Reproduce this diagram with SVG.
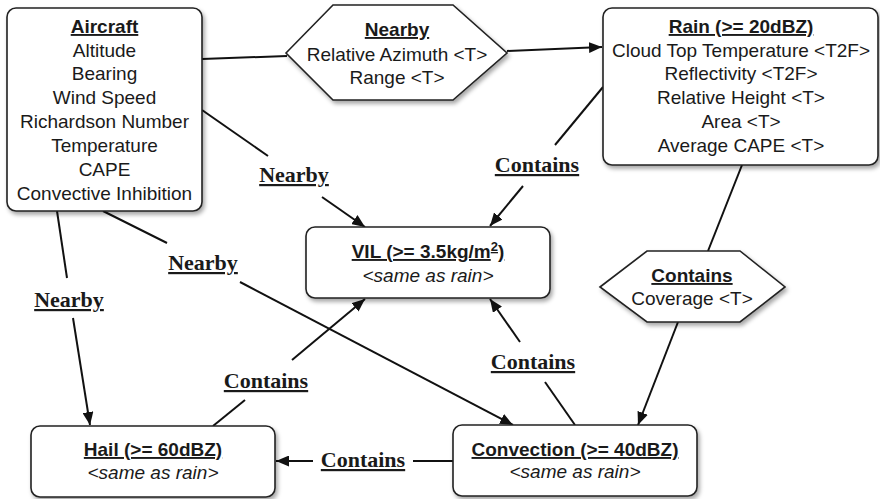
<svg xmlns="http://www.w3.org/2000/svg" width="880" height="499" viewBox="0 0 880 499">
<defs>
<marker id="arr" markerUnits="userSpaceOnUse" markerWidth="13" markerHeight="11" refX="13" refY="5.5" orient="auto">
<path d="M0,0 L13,5.5 L0,11 z" fill="#111"/>
</marker>
<filter id="sh" x="-10%" y="-10%" width="125%" height="130%">
<feDropShadow dx="2" dy="3" stdDeviation="2.2" flood-color="#000" flood-opacity="0.35"/>
</filter>
<style>
.box{fill:#fff;stroke:#222;stroke-width:1.6;filter:url(#sh)}
.t{font-family:"Liberation Sans",Arial,sans-serif;font-size:19px;fill:#1a1a1a;text-anchor:middle}
.h{font-weight:bold;text-decoration:underline}
.i{font-style:italic}
.c{stroke:#111;stroke-width:2;fill:none}
.a{marker-end:url(#arr)}
.l{font-family:"Liberation Serif","Times New Roman",serif;font-size:22px;font-weight:bold;fill:#1a1a1a;text-decoration:underline;text-anchor:middle}
</style>
</defs>
<rect width="880" height="499" fill="#fff"/>

<g id="connectors">
<line class="c" x1="202" y1="59" x2="287" y2="56"/>
<line class="c a" x1="507" y1="51" x2="602" y2="47"/>
<line class="c" x1="202" y1="110" x2="268" y2="156"/>
<line class="c a" x1="322" y1="197" x2="365" y2="227"/>
<line class="c" x1="603" y1="87" x2="555" y2="145"/>
<line class="c a" x1="523" y1="186" x2="490" y2="226"/>
<line class="c" x1="57" y1="211" x2="67" y2="278"/>
<line class="c a" x1="73" y1="318" x2="90" y2="425"/>
<line class="c" x1="103" y1="211" x2="167" y2="243"/>
<line class="c a" x1="240" y1="282" x2="513" y2="425"/>
<line class="c" x1="213" y1="426" x2="245" y2="400"/>
<line class="c a" x1="292" y1="360" x2="365" y2="299"/>
<line class="c" x1="575" y1="425" x2="545" y2="382"/>
<line class="c a" x1="520" y1="342" x2="490" y2="299"/>
<line class="c" x1="453" y1="461" x2="413" y2="461"/>
<line class="c a" x1="313" y1="461" x2="276" y2="461"/>
<line class="c" x1="742" y1="165" x2="708" y2="251"/>
<line class="c a" x1="678" y1="322" x2="638" y2="425"/>
<text class="l" x="294" y="182">Nearby</text>
<text class="l" x="537" y="172">Contains</text>
<text class="l" x="69" y="307">Nearby</text>
<text class="l" x="203" y="270">Nearby</text>
<text class="l" x="266" y="388">Contains</text>
<text class="l" x="533" y="369">Contains</text>
<text class="l" x="363" y="467">Contains</text>
</g>

<g id="aircraft">
<rect class="box" x="7" y="8" width="195" height="203" rx="9"/>
<text class="t h" x="104.5" y="33">Aircraft</text>
<text class="t" x="104.5" y="57">Altitude</text>
<text class="t" x="104.5" y="80">Bearing</text>
<text class="t" x="104.5" y="104">Wind Speed</text>
<text class="t" x="104.5" y="128">Richardson Number</text>
<text class="t" x="104.5" y="152">Temperature</text>
<text class="t" x="104.5" y="176">CAPE</text>
<text class="t" x="104.5" y="200">Convective Inhibition</text>
</g>

<g id="nearby-rel">
<polygon class="box" points="286,53 333,5 453,5 507,53 453,100 333,100"/>
<text class="t h" x="397" y="36">Nearby</text>
<text class="t" x="397" y="61">Relative Azimuth &lt;T&gt;</text>
<text class="t" x="397" y="84">Range &lt;T&gt;</text>
</g>

<g id="rain">
<rect class="box" x="603" y="8" width="275" height="157" rx="9"/>
<text class="t h" x="741" y="33">Rain (&gt;= 20dBZ)</text>
<text class="t" x="741" y="57">Cloud Top Temperature &lt;T2F&gt;</text>
<text class="t" x="741" y="80">Reflectivity &lt;T2F&gt;</text>
<text class="t" x="741" y="104">Relative Height &lt;T&gt;</text>
<text class="t" x="741" y="128">Area &lt;T&gt;</text>
<text class="t" x="741" y="152">Average CAPE &lt;T&gt;</text>
</g>

<g id="vil">
<rect class="box" x="306" y="227" width="244" height="71" rx="9"/>
<text class="t h" x="428" y="258">VIL (&gt;= 3.5kg/m<tspan font-size="13" dy="-7">2</tspan><tspan dy="7">)</tspan></text>
<text class="t i" x="428" y="282">&lt;same as rain&gt;</text>
</g>

<g id="contains-cov">
<polygon class="box" points="600,287 647,251 740,251 785,287 740,322 647,322"/>
<text class="t h" x="692" y="282">Contains</text>
<text class="t" x="692" y="305">Coverage &lt;T&gt;</text>
</g>

<g id="hail">
<rect class="box" x="31" y="426" width="244" height="71" rx="9"/>
<text class="t h" x="153" y="456">Hail (&gt;= 60dBZ)</text>
<text class="t i" x="153" y="479">&lt;same as rain&gt;</text>
</g>

<g id="convection">
<rect class="box" x="453" y="425" width="244" height="71" rx="9"/>
<text class="t h" x="575" y="456">Convection (&gt;= 40dBZ)</text>
<text class="t i" x="575" y="478">&lt;same as rain&gt;</text>
</g>
</svg>
